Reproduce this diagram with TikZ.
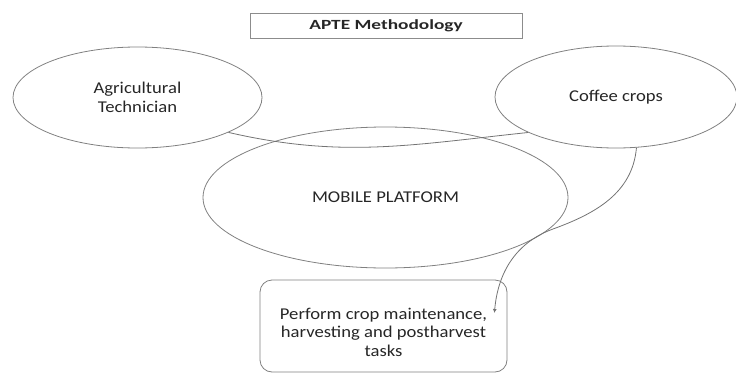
\documentclass[tikz,border=0pt]{standalone}
\usepackage{fontspec}
\setmainfont{Carlito}[FakeStretch=1.13]
\newfontfamily\headfont{Carlito}[FakeStretch=1.38]
\usepackage{xcolor}
\usetikzlibrary{arrows.meta,shapes.geometric}

\begin{document}
\begin{tikzpicture}[x=1pt, y=1pt, every node/.style={font=\fontsize{16.5}{18.5}\selectfont, text=black!85},
  oval/.style={draw=black!50, line width=.8pt, ellipse, inner sep=0pt, align=center},
  box/.style={draw=black!50, line width=.8pt, rounded corners=12pt, align=center, inner sep=0pt}]
\useasboundingbox (0,0) rectangle (736,-375);
\node[draw=black!45, line width=1pt, minimum width=272pt, minimum height=25pt, font=\headfont\bfseries\fontsize{14}{16}\selectfont] (title) at (386,-25.5) {APTE Methodology};
\node[oval, minimum width=249pt, minimum height=101pt] (tech) at (137.5,-97.5) {Agricultural\\Technician};
\node[oval, minimum width=242pt, minimum height=102pt] (coffee) at (616,-97) {Coffee crops};
\node[oval, minimum width=365pt, minimum height=141pt] (platform) at (385.5,-197.5) {MOBILE PLATFORM};
\node[box, minimum width=247pt, minimum height=92pt,
  label={[align=center, yshift=-6pt]center:Perform crop maintenance,\\harvesting and postharvest\\tasks}] (tasks) at (383.5,-326) {};
\coordinate (bend) at (553,-229);
\draw[black!55, line width=.8pt] (tech.-21) to[out=-13, in=186] (coffee.-158);
\draw[black!55, line width=.8pt, -{Latex[length=4pt,width=4pt]}] (coffee.-68) to[out=-95, in=20] (bend) to[out=200, in=85] ([xshift=-13pt, yshift=13pt]tasks.east);
\end{tikzpicture}
\end{document}
